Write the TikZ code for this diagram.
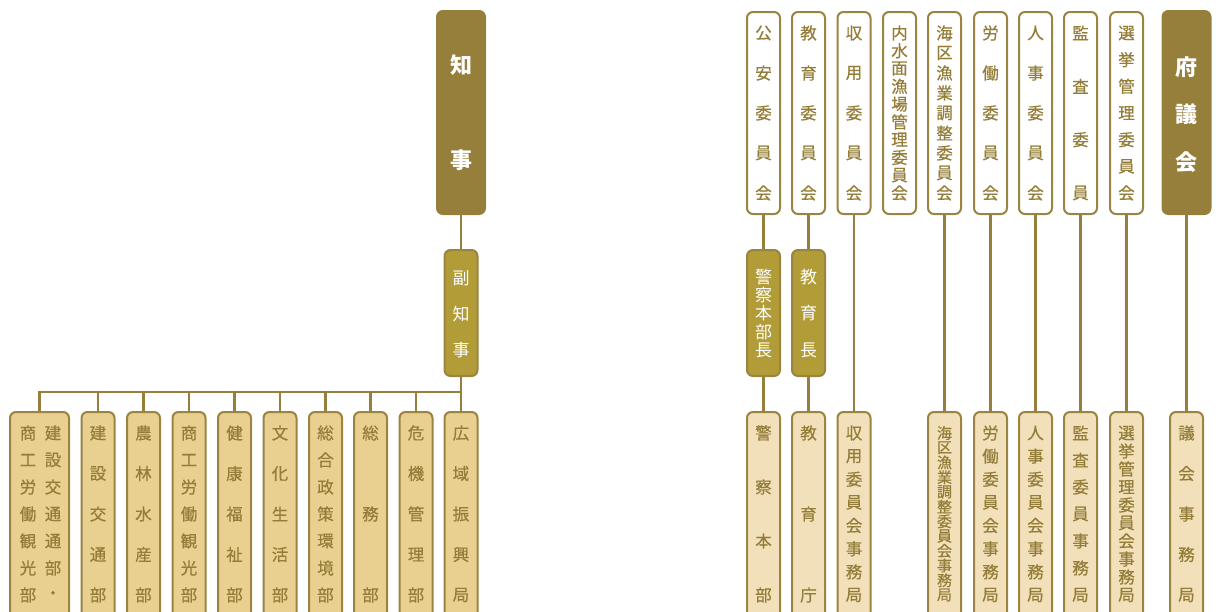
\documentclass[tikz,border=0pt]{standalone}
\usepackage{fontspec}
\setmainfont{Noto Sans CJK JP}
\newfontfamily\medjp{Noto Sans CJK JP}[FakeBold=0.5]
\definecolor{dark}{HTML}{967F3B}
\definecolor{gold}{HTML}{B29C38}
\definecolor{lightL}{HTML}{E9D091}
\definecolor{lightR}{HTML}{F1E0BA}
\definecolor{border}{HTML}{9A8442}
\definecolor{txt}{HTML}{937D38}
% box: name, center x, top y, bottom y, style
\newcommand\ubx[5]{\node[#5, minimum height={(#4-#3-2)*1pt}] (#1) at (#2,{(#3+#4)/2}) {};}
% vertical text: name, x, first y, last y, count, style, list
\newcommand\vtx[7]{\foreach \c [count=\i from 0] in {#7} {\node[#6] (#1-\i) at (#2,{#3+(#4-#3)*\i/(#5-1)}) {\c};}}
\begin{document}
\begin{tikzpicture}[x=1pt,y=-1pt,
  bx/.style={rectangle, rounded corners=6pt, line width=2pt, draw=border, inner sep=0pt, minimum width=33pt},
  topbox/.style={bx, fill=white},
  chiefbox/.style={bx, fill=dark, draw=dark, minimum width=48pt},
  midbox/.style={bx, fill=gold},
  lbox/.style={bx, fill=lightL},
  rbox/.style={bx, fill=lightR},
  ch/.style={inner sep=0pt, text=txt, font=\medjp\fontsize{16.5}{16.5}\selectfont},
  sch/.style={ch, font=\medjp\fontsize{15}{15}\selectfont},
  wch/.style={inner sep=0pt, text=white, font=\fontsize{17}{17}\selectfont},
  cch/.style={inner sep=0pt, text=white, font=\fontsize{22}{22}\selectfont\bfseries},
  link/.style={draw=dark, line width=2.5pt}
]
\useasboundingbox (0,0) rectangle (1220,611);
\clip (0,0) rectangle (1220,611);

% ---- governor side ----
\ubx{chiji}{461}{10}{215}{chiefbox}
\vtx{tchiji}{461}{65}{160}{2}{cch}{知,事}
\ubx{vice}{461}{249}{377}{midbox}
\vtx{tvice}{461}{278}{350}{3}{wch}{副,知,事}

\ubx{d1}{39.5}{411}{625}{lbox, minimum width=59pt}
\vtx{td1a}{53}{433}{595}{7}{ch}{建,設,交,通,通,部,・}
\vtx{td1b}{28}{433}{595}{7}{ch}{商,工,労,働,観,光,部}
\ubx{d2}{98}{411}{625}{lbox}
\vtx{td2}{98}{433}{595}{5}{ch}{建,設,交,通,部}
\ubx{d3}{143.5}{411}{625}{lbox}
\vtx{td3}{143.5}{433}{595}{5}{ch}{農,林,水,産,部}
\ubx{d4}{189}{411}{625}{lbox}
\vtx{td4}{189}{433}{595}{7}{ch}{商,工,労,働,観,光,部}
\ubx{d5}{234.5}{411}{625}{lbox}
\vtx{td5}{234.5}{433}{595}{5}{ch}{健,康,福,祉,部}
\ubx{d6}{280}{411}{625}{lbox}
\vtx{td6}{280}{433}{595}{5}{ch}{文,化,生,活,部}
\ubx{d7}{325.5}{411}{625}{lbox}
\vtx{td7}{325.5}{433}{595}{7}{ch}{総,合,政,策,環,境,部}
\ubx{d8}{370.5}{411}{625}{lbox}
\vtx{td8}{370.5}{433}{595}{3}{ch}{総,務,部}
\ubx{d9}{416}{411}{625}{lbox}
\vtx{td9}{416}{433}{595}{5}{ch}{危,機,管,理,部}
\ubx{d10}{461}{411}{625}{lbox}
\vtx{td10}{461}{433}{595}{5}{ch}{広,域,振,興,局}

% ---- committees ----
\ubx{k1}{763.5}{11}{215}{topbox}
\vtx{tk1}{763.5}{33}{193}{5}{ch}{公,安,委,員,会}
\ubx{k2}{808.5}{11}{215}{topbox}
\vtx{tk2}{808.5}{33}{193}{5}{ch}{教,育,委,員,会}
\ubx{k3}{854}{11}{215}{topbox}
\vtx{tk3}{854}{33}{193}{5}{ch}{収,用,委,員,会}
\ubx{k4}{899.5}{11}{215}{topbox}
\vtx{tk4}{899.5}{33}{193}{10}{ch}{内,水,面,漁,場,管,理,委,員,会}
\ubx{k5}{944.5}{11}{215}{topbox}
\vtx{tk5}{944.5}{33}{193}{9}{ch}{海,区,漁,業,調,整,委,員,会}
\ubx{k6}{990.5}{11}{215}{topbox}
\vtx{tk6}{990.5}{33}{193}{5}{ch}{労,働,委,員,会}
\ubx{k7}{1035.5}{11}{215}{topbox}
\vtx{tk7}{1035.5}{33}{193}{5}{ch}{人,事,委,員,会}
\ubx{k8}{1080.5}{11}{215}{topbox}
\vtx{tk8}{1080.5}{33}{193}{4}{ch}{監,査,委,員}
\ubx{k9}{1126.5}{11}{215}{topbox}
\vtx{tk9}{1126.5}{33}{193}{7}{ch}{選,挙,管,理,委,員,会}
\ubx{gikai}{1186.5}{10}{215}{chiefbox}
\vtx{tgikai}{1186.5}{67}{162}{3}{cch}{府,議,会}

\ubx{m1}{763.5}{249}{377}{midbox}
\vtx{tm1}{763.5}{277}{350}{5}{wch}{警,察,本,部,長}
\ubx{m2}{808.5}{249}{377}{midbox}
\vtx{tm2}{808.5}{277}{350}{3}{wch}{教,育,長}

\ubx{b1}{763.5}{411}{625}{rbox}
\vtx{tb1}{763.5}{433}{595}{4}{ch}{警,察,本,部}
\ubx{b2}{808.5}{411}{625}{rbox}
\vtx{tb2}{808.5}{433}{595}{3}{ch}{教,育,庁}
\ubx{b3}{854}{411}{625}{rbox}
\vtx{tb3}{854}{433}{595}{8}{ch}{収,用,委,員,会,事,務,局}
\ubx{b5}{944.5}{411}{625}{rbox}
\vtx{tb5}{944.5}{433}{595}{12}{sch}{海,区,漁,業,調,整,委,員,会,事,務,局}
\ubx{b6}{990.5}{411}{625}{rbox}
\vtx{tb6}{990.5}{433}{595}{8}{ch}{労,働,委,員,会,事,務,局}
\ubx{b7}{1035.5}{411}{625}{rbox}
\vtx{tb7}{1035.5}{433}{595}{8}{ch}{人,事,委,員,会,事,務,局}
\ubx{b8}{1080.5}{411}{625}{rbox}
\vtx{tb8}{1080.5}{433}{595}{7}{ch}{監,査,委,員,事,務,局}
\ubx{b9}{1126.5}{411}{625}{rbox}
\vtx{tb9}{1126.5}{433}{595}{10}{ch}{選,挙,管,理,委,員,会,事,務,局}
\ubx{b10}{1186.5}{411}{625}{rbox}
\vtx{tb10}{1186.5}{433}{595}{5}{ch}{議,会,事,務,局}

% ---- connectors ----
\coordinate (bus) at (461,392);
\draw[link] (chiji.south) -- (vice.north);
\draw[link] (vice.south) -- (d10.north);
\foreach \k in {1,...,9} {\draw[link] (d\k.north) |- (bus);}
\draw[link] (k1.south) -- (m1.north);
\draw[link] (m1.south) -- (b1.north);
\draw[link] (k2.south) -- (m2.north);
\draw[link] (m2.south) -- (b2.north);
\draw[link] (k3.south) -- (b3.north);
\draw[link] (k5.south) -- (b5.north);
\draw[link] (k6.south) -- (b6.north);
\draw[link] (k7.south) -- (b7.north);
\draw[link] (k8.south) -- (b8.north);
\draw[link] (k9.south) -- (b9.north);
\draw[link] (gikai.south) -- (b10.north);
\end{tikzpicture}
\end{document}
